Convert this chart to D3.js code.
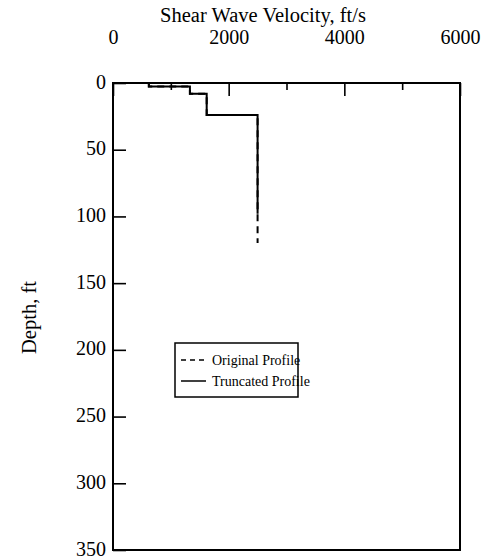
<!DOCTYPE html>
<html>
<head>
<meta charset="utf-8">
<script src="https://cdn.jsdelivr.net/npm/d3@7"></script>
<style>
  body { margin:0; background:#fff; }
  text { font-family: "Liberation Serif", "Times New Roman", serif; fill:#000; }
</style>
</head>
<body>
<div id="chart"></div>
<script>
// Vs-Profil: Geschwindigkeit (ft/s) über Tiefe (ft), Stufenprofil
const origVel   = [620, 620, 1330, 1330, 1620, 1620, 2500, 2500];
const origDepth = [0, 2.7, 2.7, 8, 8, 24, 24, 120];
const truncVel   = [620, 620, 1330, 1330, 1620, 1620, 2500, 2500];
const truncDepth = [0, 2.7, 2.7, 8, 8, 24, 24, 98];
const xMajor = [0, 2000, 4000, 6000];
const xMinor = [1000, 3000, 5000];
const yTicks = [0, 50, 100, 150, 200, 250, 300, 350];
const legendLabels = ["Original Profile", "Truncated Profile"];

const W = 483, H = 560;
const L = 113, R = 460, T = 83, B = 550;
const svg = d3.select("#chart").append("svg").attr("width", W).attr("height", H);

const x = d3.scaleLinear().domain([0, 6000]).range([L, R]);
const y = d3.scaleLinear().domain([0, 350]).range([T, B]);

// Achsen (Ticks nach innen)
const xAx = svg.append("g").attr("transform", `translate(0,${T})`)
  .call(d3.axisTop(x).tickValues(xMajor).tickSize(-13).tickPadding(39).tickFormat(d3.format("d")));
xAx.select(".domain").remove();
xAx.selectAll("line").attr("stroke", "#000").attr("stroke-width", 1.6);
xAx.selectAll("text").attr("font-size", 20).attr("fill", "#000");
svg.append("g").attr("transform", `translate(0,${T})`)
  .call(d3.axisTop(x).tickValues(xMinor).tickSize(-7).tickFormat(""))
  .call(g => g.select(".domain").remove())
  .selectAll("line").attr("stroke", "#000").attr("stroke-width", 1.6);

const yAx = svg.append("g").attr("transform", `translate(${L},0)`)
  .call(d3.axisLeft(y).tickValues(yTicks).tickSize(-13).tickPadding(7));
yAx.select(".domain").remove();
yAx.selectAll("line").attr("stroke", "#000").attr("stroke-width", 1.6);
yAx.selectAll("text").attr("font-size", 20).attr("dy", "0.25em").attr("fill", "#000");

// Rahmen
svg.append("rect").attr("x", L).attr("y", T).attr("width", R - L).attr("height", B - T)
  .attr("fill", "none").attr("stroke", "#000").attr("stroke-width", 2);

// Profile
const line = d3.line().x(d => x(d[0])).y(d => y(d[1]));
svg.append("path").datum(d3.zip(origVel, origDepth)).attr("d", line)
  .attr("fill", "none").attr("stroke", "#000").attr("stroke-width", 2).attr("stroke-dasharray", "7,5");
svg.append("path").datum(d3.zip(truncVel, truncDepth)).attr("d", line)
  .attr("fill", "none").attr("stroke", "#000").attr("stroke-width", 2);

// Titel
svg.append("text").attr("x", 263).attr("y", 22).attr("text-anchor", "middle")
  .attr("font-size", 20.5).text("Shear Wave Velocity, ft/s");
svg.append("text").attr("transform", `translate(36,${(T + B) / 2 + 1}) rotate(-90)`)
  .attr("text-anchor", "middle").attr("font-size", 20.5).text("Depth, ft");

// Legende
const lg = svg.append("g").attr("transform", "translate(175,343)");
lg.append("rect").attr("width", 123).attr("height", 54).attr("fill", "#fff")
  .attr("stroke", "#000").attr("stroke-width", 1.5);
legendLabels.forEach((t, i) => {
  const yy = 17 + i * 21;
  lg.append("line").attr("x1", 6).attr("x2", 31).attr("y1", yy).attr("y2", yy)
    .attr("stroke", "#000").attr("stroke-width", 1.5)
    .attr("stroke-dasharray", i === 0 ? "5,4" : null);
  lg.append("text").attr("x", 37).attr("y", yy + 5).attr("font-size", 14).text(t);
});
</script>
</body>
</html>
